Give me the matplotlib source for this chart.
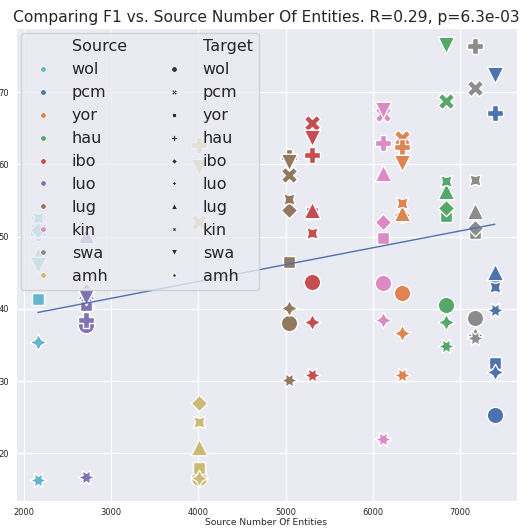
import numpy as np
import matplotlib
matplotlib.use("Agg")
import matplotlib.pyplot as plt
from matplotlib.lines import Line2D
import seaborn as sns

sns.set_style("darkgrid")

# languages, in the order used for both source and target
languages = ["wol", "pcm", "yor", "hau", "ibo", "luo", "lug", "kin", "swa", "amh"]

# number of entities in each source language
source_entities = [2160, 7395, 6330, 6835, 5300, 2710, 5035, 6110, 7165, 4005]

# F1 per target (same order as languages), None = source itself
f1_wol = [None, 52.2, 41.4, 50.5, 50.9, 35.4, 47.5, 52.6, 46.1, 16.3]
f1_pcm = [25.3, None, 32.5, 67.1, 44.0, 31.3, 45.1, 43.0, 72.4, 39.9]
f1_yor = [42.2, 63.6, None, 62.4, 53.0, 36.7, 53.3, 54.6, 60.2, 30.9]
f1_hau = [40.6, 68.8, 52.8, None, 54.0, 38.2, 56.3, 57.7, 76.5, 34.9]
f1_ibo = [43.7, 65.7, 53.3, 61.3, None, 38.2, 53.7, 50.5, 63.7, 30.8]
f1_luo = [37.8, 41.0, 40.5, 38.5, 42.5, None, 50.2, 41.8, 41.6, 16.7]
f1_lug = [38.0, 58.5, 46.5, 61.0, 53.7, 40.1, None, 55.2, 60.3, 30.2]
f1_kin = [43.6, 67.0, 49.8, 63.0, 52.0, 38.5, 58.8, None, 67.5, 22.0]
f1_swa = [38.7, 70.6, 50.5, 76.4, 51.2, 36.4, 53.5, 57.8, None, 36.0]
f1_amh = [16.6, 52.0, 18.0, 62.7, 27.0, 16.6, 20.9, 24.4, 59.6, None]

f1_rows = [f1_wol, f1_pcm, f1_yor, f1_hau, f1_ibo, f1_luo, f1_lug, f1_kin, f1_swa, f1_amh]

# seaborn "deep" colours, one per source
colors = ["#64B5CD", "#4C72B0", "#DD8452", "#55A868", "#C44E52",
          "#8172B3", "#937860", "#DA8BC3", "#8C8C8C", "#CCB974"]
# seaborn style markers, one per target
markers = ["o", "X", (4, 0, 45), "P", (4, 0, 0), (4, 1, 0), "^", (4, 1, 45), "v", (6, 1, 30)]

fig = plt.figure(figsize=(5.29, 5.30), dpi=100)
ax = fig.add_axes([0.030, 0.0547, 0.947, 0.8925])

xs, ys = [], []
for i, src in enumerate(languages):
    for j, tgt in enumerate(languages):
        val = f1_rows[i][j]
        if val is None:
            continue
        ax.scatter(source_entities[i], val, s=140, color=colors[i], marker=markers[j],
                   edgecolor="white", linewidth=1.0, zorder=3)
        xs.append(source_entities[i])
        ys.append(val)

# regression line over the data range
slope, intercept = np.polyfit(xs, ys, 1)
line_x = np.array([min(xs), max(xs)])
ax.plot(line_x, slope * line_x + intercept, color="#4C72B0", linewidth=1, zorder=4)

ax.set_xlim(1908, 7647)
ax.set_ylim(13.4, 78.9)
ax.set_xticks([2000, 3000, 4000, 5000, 6000, 7000])
ax.set_yticks([20, 30, 40, 50, 60, 70])
ax.tick_params(labelsize=6, pad=1.2)
ax.set_xlabel("Source Number Of Entities", fontsize=6.6, labelpad=1)
ax.set_title("Comparing F1 vs. Source Number Of Entities. R=0.29, p=6.3e-03",
             fontsize=11.2, pad=4.5)

# legend: Source colours in one column, Target markers in the other
blank = Line2D([], [], linestyle="none", marker="")
handles = [blank]
labels = ["Source"]
for i, src in enumerate(languages):
    handles.append(Line2D([], [], linestyle="none", marker="o", markersize=4,
                          color=colors[i], markeredgecolor="white", markeredgewidth=0.5))
    labels.append(src)
handles.append(blank)
labels.append("Target")
for j, tgt in enumerate(languages):
    handles.append(Line2D([], [], linestyle="none", marker=markers[j], markersize=4,
                          color="#333333", markeredgecolor="white", markeredgewidth=0.5))
    labels.append(tgt)

ax.legend(handles, labels, ncol=2, loc="upper left", fontsize=11.5,
          borderaxespad=0.3, labelspacing=0.5, columnspacing=1.95)

fig.savefig("out.png", dpi=100)
